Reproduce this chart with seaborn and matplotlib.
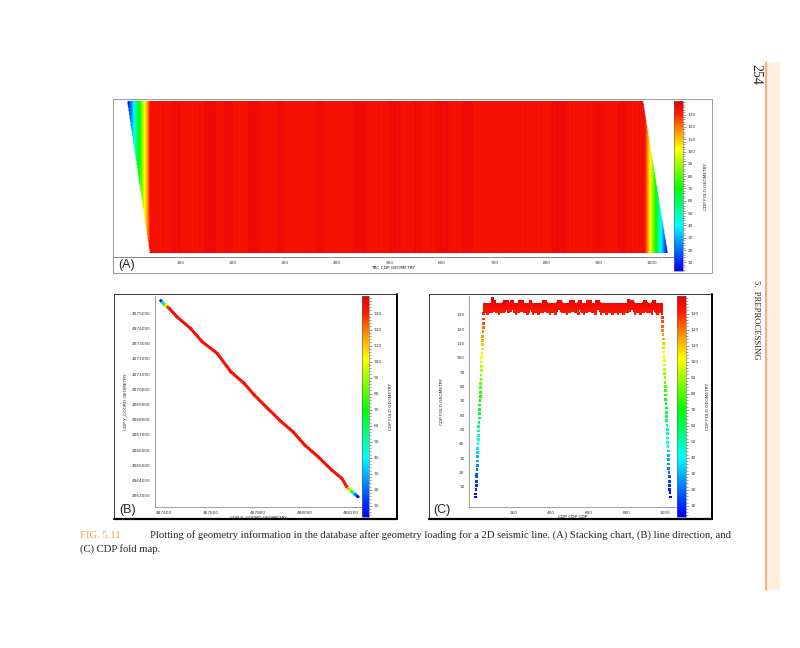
import numpy as np
import matplotlib
matplotlib.use('Agg')
import matplotlib.pyplot as plt
import seaborn as sns
from matplotlib.colors import LinearSegmentedColormap, Normalize
from matplotlib.collections import LineCollection
from matplotlib.patches import Rectangle
from matplotlib.ticker import MultipleLocator, FormatStrFormatter
from matplotlib.cm import ScalarMappable

sns.set_style('white')
plt.rcParams['font.family'] = ['DejaVu Sans']

# ---- data ----
# fold rising at the start of the line (CDP 0..43)
ramp_left = [3, 5, 8, 11, 14, 17, 19, 22, 25, 28, 31, 34, 37, 40, 43, 46, 49, 52, 55, 58, 61, 64,
             67, 70, 73, 76, 79, 82, 85, 88, 91, 94, 97, 100, 103, 106, 109, 112, 115, 118, 121, 124, 127, 131]
# fold falling at the end of the line (CDP 988..1031)
ramp_right = [131, 128, 125, 122, 119, 116, 113, 110, 107, 104, 101, 98, 95, 92, 89, 86, 83, 80, 77, 74, 71, 68,
              65, 62, 59, 56, 53, 50, 47, 44, 41, 38, 35, 32, 29, 26, 23, 20, 17, 14, 11, 8, 6, 3]
n_plateau = 944
fold_full = 134
fold_stripe = 136
# CDP ranges that show as darker stripes in the stacking chart
stripe_start = [87, 147, 184, 230, 286, 361, 432, 500, 545, 590, 639, 808, 891, 936]
stripe_end = [102, 169, 199, 252, 297, 376, 455, 522, 560, 613, 658, 838, 906, 951]
# small CDP-to-CDP fold changes on the full-fold part
fold_jitter = [0, 2, -1, 1, 3, -2, 0, 2, 1, -1, 3, 0, -2, 1, 2, 0, -1, 3, 1, 0, -3, 2, 0, 1, -1, 2, 3, 0, -2, 1]
spike_cdp = [88, 812]
spike_fold = [141, 140]

# stacking chart: CDP span of first and last shot
first_shot_cdp = [0, 984]
last_shot_cdp = [43, 1031]
n_shots = 160

# line direction: CDP coordinates along the line and their fold
line_x = [487389, 487396, 487403, 487410, 487417, 487426, 487457, 487515, 487565, 487629, 487687, 487744, 487787,
          487844, 487902, 487952, 488002, 488059, 488117, 488160, 488181, 488186, 488196, 488206, 488217, 488229]
line_y = [4975831, 4975723, 4975590, 4975502, 4975414, 4975305, 4974778, 4974011, 4973134, 4972366, 4971160,
          4970392, 4969624, 4968747, 4967870, 4967212, 4966334, 4965567, 4964689, 4964141, 4963593, 4963484,
          4963374, 4963220, 4963088, 4962935]
line_fold = [5, 35, 70, 100, 125, 134, 134, 134, 134, 134, 134, 134, 134, 134, 134, 134, 134, 134, 134, 134,
             134, 115, 90, 55, 25, 5]

fold_ticks = [10, 20, 30, 40, 50, 60, 70, 80, 90, 100, 110, 120, 130]

# ---- build fold per CDP ----
fold = np.concatenate([ramp_left, np.full(n_plateau, fold_full), ramp_right]).astype(float)
for s, e in zip(stripe_start, stripe_end):
    fold[s:e + 1] = fold_stripe
p0 = len(ramp_left)
fold[p0:p0 + n_plateau] += np.resize(fold_jitter, n_plateau)
fold[spike_cdp] = spike_fold
cdp = np.arange(len(fold))

# colour scale
vmin, vmax = 3, 141
nodes = [(3, (0, 0, 1)), (12, (0, 0.2, 1)), (40, (0, 1, 1)), (70, (0, 1, 0)), (102, (1, 1, 0)),
         (118, (1, 0.55, 0)), (131, (1, 0.1, 0)), (141, (0.9, 0.0, 0.03))]
cmap = LinearSegmentedColormap.from_list('fold', [((v - vmin) / (vmax - vmin), c) for v, c in nodes])
norm = Normalize(vmin, vmax)

W, H = 800, 648
fig = plt.figure(figsize=(8, 6.48), dpi=100)
fig.patch.set_facecolor('white')


def rect(x0, y0, x1, y1):
    return [x0 / W, 1 - y1 / H, (x1 - x0) / W, (y1 - y0) / H]


def ftext(x, y, s, **kw):
    fig.text(x / W, 1 - y / H, s, **kw)


tick_fs = 3.1
lab_fs = 3.2
tcol = '#333333'


def style_axis(ax):
    ax.tick_params(which='both', direction='out', colors='#555555', labelcolor=tcol,
                   labelsize=tick_fs, width=0.4, pad=1)
    ax.tick_params(which='major', length=2.2)
    ax.tick_params(which='minor', length=1.2)


def add_cbar(x0, y0, x1, y1):
    cax = fig.add_axes(rect(x0, y0, x1, y1))
    cb = fig.colorbar(ScalarMappable(norm=norm, cmap=cmap), cax=cax)
    cb.set_ticks(fold_ticks)
    cb.ax.yaxis.set_minor_locator(MultipleLocator(2))
    cb.outline.set_linewidth(0.4)
    cb.outline.set_edgecolor('#666666')
    style_axis(cb.ax)
    return cb


# frames
fig.add_artist(Rectangle((113 / W, 1 - 273 / H), 599 / W, 174 / H, transform=fig.transFigure,
                         fill=False, ec='#9a9a9a', lw=0.7))
for x0 in [114, 429]:
    fig.add_artist(Rectangle((x0 / W, 1 - 519 / H), 283 / W, 225 / H, transform=fig.transFigure,
                             fill=False, ec='#333333', lw=0.7))
    fig.add_artist(plt.Line2D([x0 / W, (x0 + 283) / W], [1 - 519 / H] * 2, color='black', lw=1.6))
    fig.add_artist(plt.Line2D([(x0 + 283) / W] * 2, [1 - 519 / H, 1 - 294 / H], color='black', lw=1.4))

# ---- (A) stacking chart ----
axA = fig.add_axes(rect(113, 101, 674, 257))
rows = (np.arange(n_shots) + 0.5) / n_shots
lo = last_shot_cdp[0] + (first_shot_cdp[0] - last_shot_cdp[0]) * rows
hi = last_shot_cdp[1] + (first_shot_cdp[1] - last_shot_cdp[1]) * rows
rgba = cmap(norm(np.tile(fold, (n_shots, 1))))
outside = (cdp[None, :] < lo[:, None]) | (cdp[None, :] > hi[:, None])
rgba[outside, 3] = 0
axA.imshow(rgba, origin='lower', aspect='auto', extent=(-0.5, len(fold) - 0.5, 0, 1),
           interpolation='antialiased', interpolation_stage='rgba')
axA.set_xlim(-28, 1043)
axA.set_ylim(-0.026, 1.007)
axA.set_yticks([])
axA.xaxis.set_minor_locator(MultipleLocator(20))
axA.set_xticks(range(100, 1001, 100))
for s in ['top', 'left', 'right']:
    axA.spines[s].set_visible(False)
axA.spines['bottom'].set_linewidth(0.5)
axA.spines['bottom'].set_color('#555555')
style_axis(axA)
axA.set_xlabel('TRC CDP GEOMETRY', fontsize=lab_fs, color='#222222', labelpad=0.5)
cbA = add_cbar(674, 101, 683, 271)
cbA.set_label('CDP FOLD GEOMETRY', fontsize=lab_fs, color='#222222', labelpad=6)
ftext(127, 265, '(A)', fontsize=9, family='Liberation Sans', ha='center', va='center')

# ---- (B) line direction ----
axB = fig.add_axes(rect(155, 296, 362, 507))
pts = np.column_stack([line_x, line_y])
segs = np.stack([pts[:-1], pts[1:]], axis=1)
seg_fold = (np.array(line_fold[:-1]) + np.array(line_fold[1:])) / 2
axB.add_collection(LineCollection(segs, colors=cmap(norm(seg_fold)), linewidths=2.2, capstyle='round'))
sns.scatterplot(x=line_x, y=line_y, hue=line_fold, palette=cmap, hue_norm=norm, s=4,
                linewidth=0, legend=False, ax=axB, zorder=3)
axB.set_xlim(487364, 488246)
axB.set_ylim(4962260, 4976140)
axB.set_xticks(range(487400, 488201, 200))
axB.xaxis.set_minor_locator(MultipleLocator(100))
axB.set_yticks(range(4963000, 4975001, 1000))
axB.yaxis.set_minor_locator(MultipleLocator(200))
axB.xaxis.set_major_formatter(FormatStrFormatter('%d'))
axB.yaxis.set_major_formatter(FormatStrFormatter('%d'))
style_axis(axB)
axB.tick_params(axis='x', which='minor', length=2.2)
for s in ['top', 'right']:
    axB.spines[s].set_visible(False)
for s in ['left', 'bottom']:
    axB.spines[s].set_linewidth(0.5)
    axB.spines[s].set_color('#777777')
axB.set_xlabel('CDP X_COORD GEOMETRY', fontsize=lab_fs, color='#222222', labelpad=0)
axB.set_ylabel('CDP Y_COORD GEOMETRY', fontsize=lab_fs, color='#222222', labelpad=3)
cbB = add_cbar(362, 296, 369, 517)
cbB.set_label('CDP FOLD GEOMETRY', fontsize=lab_fs, color='#222222', labelpad=5)
ftext(128, 510, '(B)', fontsize=9, family='Liberation Sans', ha='center', va='center')

# ---- (C) fold map ----
axC = fig.add_axes(rect(469, 296, 677, 507))
sns.scatterplot(x=cdp, y=fold, hue=fold, palette=cmap, hue_norm=norm, s=4, marker='s',
                linewidth=0, legend=False, ax=axC)
axC.set_xlim(-35, 1067)
axC.set_ylim(-4, 143)
axC.set_xticks(range(200, 1001, 200))
axC.xaxis.set_minor_locator(MultipleLocator(100))
axC.set_yticks(fold_ticks)
axC.yaxis.set_minor_locator(MultipleLocator(2))
style_axis(axC)
axC.tick_params(axis='x', which='minor', length=2.2)
for s in ['top', 'right']:
    axC.spines[s].set_visible(False)
for s in ['left', 'bottom']:
    axC.spines[s].set_linewidth(0.5)
    axC.spines[s].set_color('#777777')
axC.set_xlabel('CDP CDP CDP', fontsize=lab_fs, color='#222222', labelpad=0)
axC.set_ylabel('CDP FOLD GEOMETRY', fontsize=lab_fs, color='#222222', labelpad=9)
cbC = add_cbar(677, 296, 686, 517)
cbC.set_label('CDP FOLD GEOMETRY', fontsize=lab_fs, color='#222222', labelpad=5)
ftext(442, 510, '(C)', fontsize=9, family='Liberation Sans', ha='center', va='center')

# ---- page furniture ----
fig.add_artist(Rectangle((766 / W, 1 - 590 / H), 14 / W, 528 / H, transform=fig.transFigure,
                         fc='#fdeedd', ec='none'))
fig.add_artist(plt.Line2D([766 / W] * 2, [1 - 590 / H, 1 - 62 / H], color='#f5a552', lw=1.2))
ftext(756, 74, '254', fontsize=10, family='Liberation Serif', rotation=270, ha='center', va='center')
ftext(756, 320, '5.  PREPROCESSING', fontsize=6.2, family='Liberation Serif', rotation=270,
      ha='center', va='center')
cap_fs = 7.7
ftext(80, 535, 'FIG. 5.11', fontsize=cap_fs, family='Liberation Serif', color='#f0a050', va='center')
ftext(150, 535, 'Plotting of geometry information in the database after geometry loading for a 2D seismic '
      'line. (A) Stacking chart, (B) line direction, and', fontsize=cap_fs, family='Liberation Serif',
      va='center')
ftext(80, 549, '(C) CDP fold map.', fontsize=cap_fs, family='Liberation Serif', va='center')

fig.savefig('out.png', dpi=100, facecolor='white')
